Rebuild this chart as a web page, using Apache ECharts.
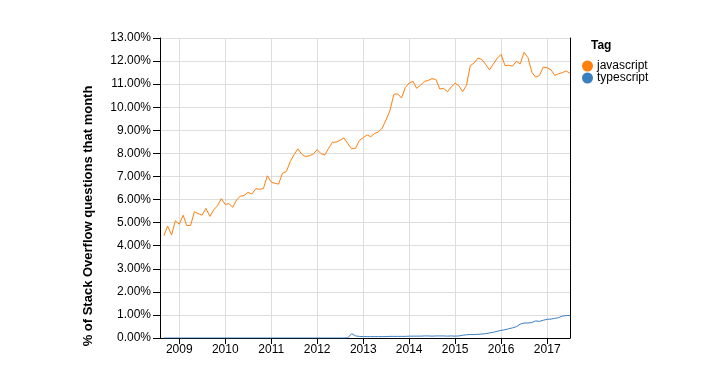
<!DOCTYPE html>
<html>
<head>
<meta charset="utf-8">
<script src="https://cdn.jsdelivr.net/npm/echarts@6/dist/echarts.min.js"></script>
<style>html,body{margin:0;padding:0;background:#fff}#c{width:726px;height:381px}</style>
</head>
<body>
<div id="c"></div>
<script>
// First month of data and monthly series values (% of SO questions)
var startYear = 2008, startMonth = 9;
var seriesNames = ['javascript', 'typescript'];
var yAxisTitle = '% of Stack Overflow questions that month';
var javascriptValues = [
  4.43,4.85,4.46,5.08,
  4.93,5.32,4.87,4.88,5.47,5.39,5.32,5.62,5.27,5.55,5.73,6.04,
  5.79,5.82,5.66,5.98,6.14,6.18,6.31,6.24,6.47,6.44,6.48,7.03,
  6.76,6.70,6.67,7.14,7.21,7.64,7.94,8.20,7.96,7.86,7.90,7.97,
  8.16,7.99,7.93,8.22,8.48,8.49,8.57,8.67,8.42,8.20,8.22,8.56,
  8.68,8.80,8.72,8.86,8.93,9.10,9.45,9.85,10.56,10.58,10.40,10.85,
  11.05,11.12,10.82,10.95,11.12,11.16,11.24,11.20,10.79,10.82,10.67,10.88,
  11.04,10.92,10.67,10.95,11.80,11.92,12.13,12.07,11.85,11.62,11.88,12.12,
  12.29,11.80,11.82,11.78,11.99,11.88,12.38,12.15,11.52,11.30,11.38,11.74,
  11.71,11.62,11.38,11.45,11.50,11.57,11.47
];
var typescriptValues = [
  0,0,0,0,
  0,0,0,0,0,0,0,0,0,0,0,0,
  0,0,0,0,0,0,0,0,0,0,0,0,
  0,0,0,0,0,0,0,0,0,0,0,0,
  0,0,0,0,0,0,0,0,0.01,0.19,0.09,0.07,
  0.06,0.06,0.06,0.06,0.06,0.06,0.06,0.07,0.07,0.07,0.07,0.07,
  0.08,0.08,0.08,0.08,0.09,0.09,0.08,0.09,0.09,0.09,0.08,0.09,
  0.08,0.09,0.12,0.14,0.15,0.15,0.16,0.17,0.19,0.22,0.25,0.29,
  0.33,0.36,0.40,0.44,0.49,0.60,0.65,0.65,0.67,0.74,0.72,0.77,
  0.81,0.82,0.85,0.88,0.95,0.97,0.98
];
var yTickValues = [0,1,2,3,4,5,6,7,8,9,10,11,12,13];

function monthDate(i){
  var m = startMonth - 1 + i;
  var y = startYear + Math.floor(m / 12);
  var mm = (m % 12) + 1;
  return y + '-' + (mm < 10 ? '0' + mm : mm) + '-01';
}
function pairs(vals){ return vals.map(function(v,i){ return [monthDate(i), v]; }); }

var FONT = 'Liberation Sans, Arial, sans-serif';
var chart = echarts.init(document.getElementById('c'), null, {renderer:'canvas'});
chart.setOption({
  animation: false,
  backgroundColor: '#fff',
  textStyle: {fontFamily: FONT},
  title: {text: 'Tag', left: 586, top: 35, textStyle: {fontFamily: FONT, fontSize: 12, fontWeight: 'bold', color: '#000'}},
  graphic: [{
    type: 'text', x: 88, y: 216, rotation: Math.PI / 2,
    style: {text: yAxisTitle, fill: '#000', font: 'bold 13px ' + FONT, textAlign: 'center', textVerticalAlign: 'middle'}
  }],
  legend: {
    orient: 'vertical', left: 577, top: 55, itemGap: 0,
    icon: 'circle', itemWidth: 11, itemHeight: 11,
    textStyle: {fontFamily: FONT, fontSize: 12, color: '#000', lineHeight: 12, padding: [0,0,0,-1]},
    data: seriesNames
  },
  grid: {left: 160, right: 156, top: 38, bottom: 43, containLabel: false},
  xAxis: {
    type: 'time', min: '2008-08-01', max: '2017-07-01',
    minInterval: 365*24*3600*1000, maxInterval: 366*24*3600*1000,
    axisLine: {show: true, lineStyle: {color: '#000', width: 1}},
    axisTick: {show: true, length: 6, lineStyle: {color: '#000'}},
    axisLabel: {formatter: '{yyyy}', color: '#000', fontSize: 12, margin: 6, fontFamily: FONT, showMinLabel: false, showMaxLabel: false},
    splitLine: {show: true, lineStyle: {color: '#ddd', width: 1}}
  },
  yAxis: [{
    type: 'value', min: 0, max: 13, interval: 1,
    axisLine: {show: true, lineStyle: {color: '#000', width: 1}},
    axisTick: {show: true, length: 7, lineStyle: {color: '#000'}},
    axisLabel: {color: '#000', fontSize: 12, margin: 9, fontFamily: FONT,
      formatter: function(v){ return yTickValues.indexOf(v) >= 0 ? v.toFixed(2) + '%' : ''; }},
    splitLine: {show: true, lineStyle: {color: '#ddd', width: 1}}
  }, {
    type: 'value', min: 0, max: 13, interval: 1, position: 'right',
    axisLine: {show: true, lineStyle: {color: '#000', width: 1}},
    axisTick: {show: false}, axisLabel: {show: false}, splitLine: {show: false}
  }],
  color: ['#ff7f0e', '#3a7fc0'],
  series: [
    {name: seriesNames[0], type: 'line', data: pairs(javascriptValues), showSymbol: false, symbol: 'none', lineStyle: {width: 1}},
    {name: seriesNames[1], type: 'line', data: pairs(typescriptValues), showSymbol: false, symbol: 'none', lineStyle: {width: 1}}
  ]
});
</script>
</body>
</html>
